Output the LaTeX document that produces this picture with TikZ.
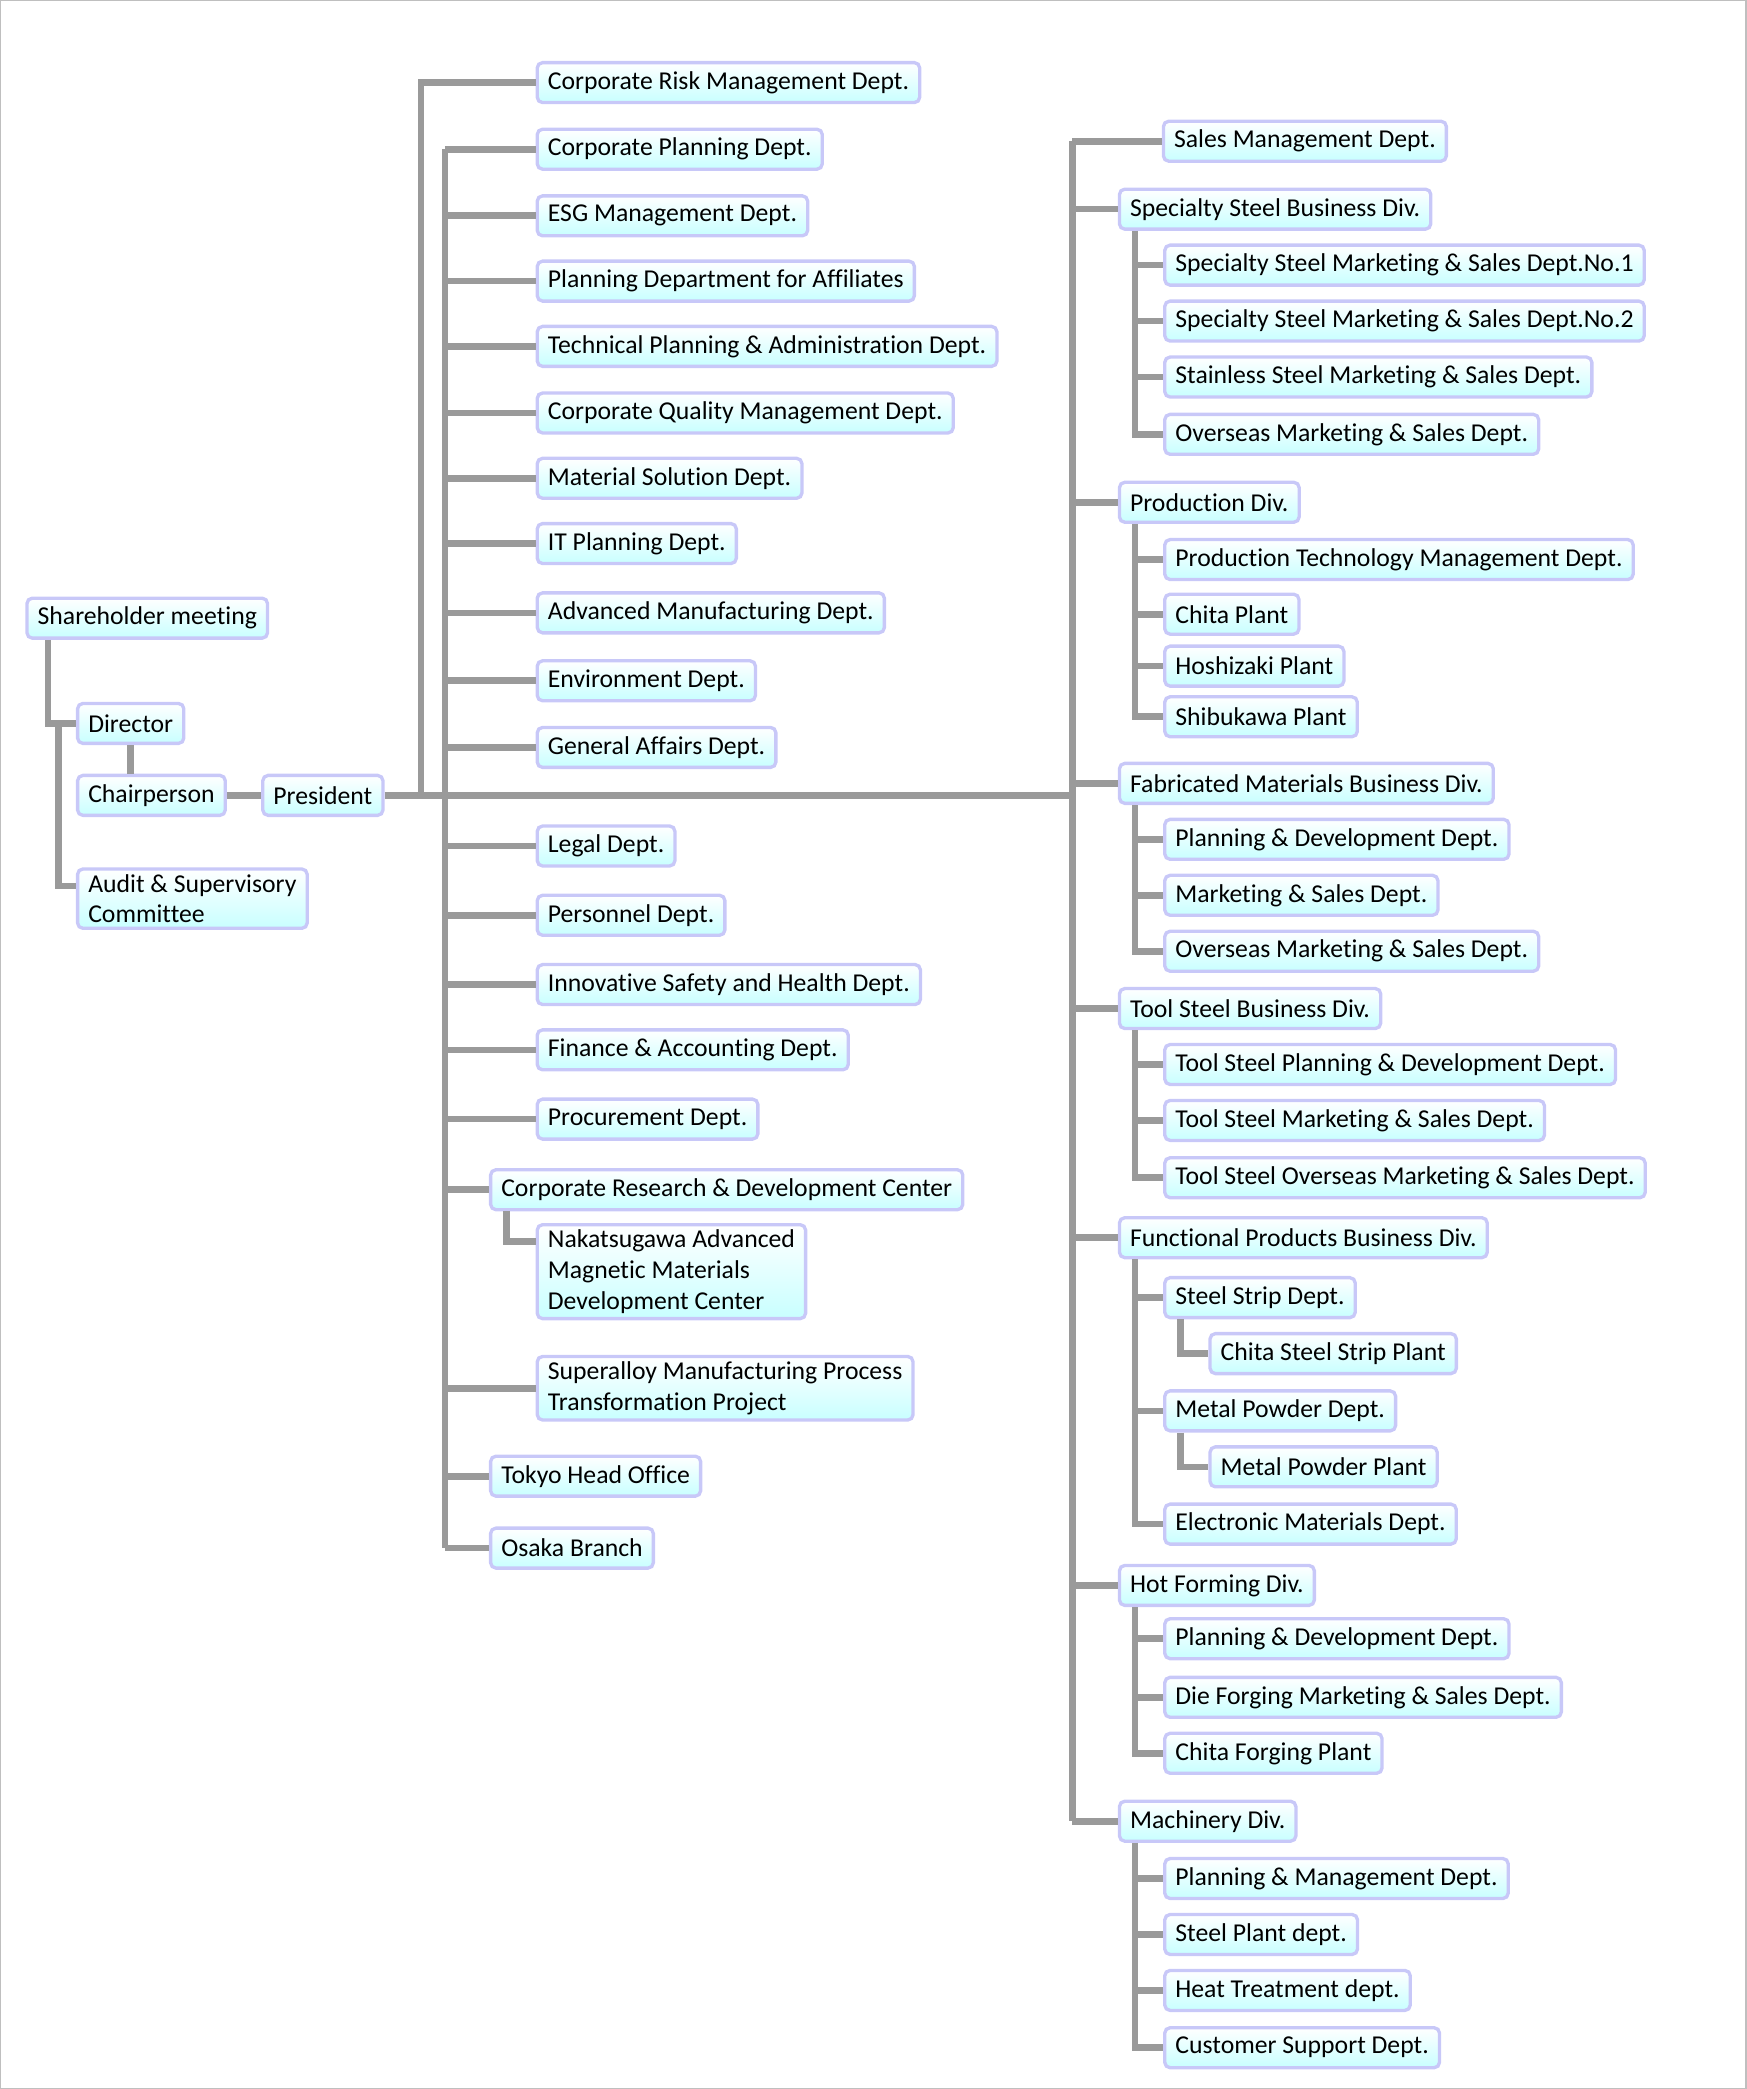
\documentclass[tikz,border=0pt]{standalone}
\usepackage{fontspec}
\setmainfont{Carlito}[Ligatures=NoCommon]
\definecolor{linkgray}{HTML}{9A9A9A}
\definecolor{boxline}{HTML}{C8C8F8}
\definecolor{boxfill}{HTML}{C8FFFF}
\tikzset{
  unit/.style = { draw=boxline, line width=2.5pt, rounded corners=4pt,
                  top color=white, bottom color=boxfill,
                  inner xsep=8pt, inner ysep=4pt, minimum height=30pt,
                  font=\fontsize{19.3}{23}\selectfont, align=left, anchor=west },
  link/.style = { draw=linkgray, line width=5pt },
}
\begin{document}
\begin{tikzpicture}[x=1pt, y=-1pt]
	  \useasboundingbox (0,0) rectangle (1311,1568);
	  \draw [ gray!50, line width=1pt ] (0.5,0.5) rectangle (1310.5,1567.5);

	  % trunks
	  \coordinate (riskT) at (316,598);
	  \coordinate (leftT) at (334,598);
	  \coordinate (rightT) at (805,598);
	  \coordinate (auditT) at (44,543);

	  % top management
	  \node [unit] (share) at (19,464) {Shareholder meeting};
	  \node [unit] (dir) at (57,543) {Director};
	  \node [unit] (chair) at (57,597) {Chairperson};
	  \node [unit] (pres) at (196,597) {President};
	  \node [unit, anchor=north west] (audit) at (57,651) {Audit \& Supervisory\\Committee};

	  % corporate departments
	  \node [unit] (risk) at (402,62) {Corporate Risk Management Dept.};
	  \node [unit] (cpd) at (402,112) {Corporate Planning Dept.};
	  \node [unit] (esg) at (402,162) {ESG Management Dept.};
	  \node [unit] (affil) at (402,211) {Planning Department for Affiliates};
	  \node [unit] (tech) at (402,260) {Technical Planning \& Administration Dept.};
	  \node [unit] (qual) at (402,310) {Corporate Quality Management Dept.};
	  \node [unit] (matsol) at (402,359) {Material Solution Dept.};
	  \node [unit] (itp) at (402,408) {IT Planning Dept.};
	  \node [unit] (advm) at (402,460) {Advanced Manufacturing Dept.};
	  \node [unit] (env) at (402,511) {Environment Dept.};
	  \node [unit] (gen) at (402,561) {General Affairs Dept.};
	  \node [unit] (legal) at (402,635) {Legal Dept.};
	  \node [unit] (pers) at (402,687) {Personnel Dept.};
	  \node [unit] (safety) at (402,739) {Innovative Safety and Health Dept.};
	  \node [unit] (fin) at (402,788) {Finance \& Accounting Dept.};
	  \node [unit] (proc) at (402,840) {Procurement Dept.};
	  \node [unit] (crd) at (367,893) {Corporate Research \& Development Center};
	  \node [unit, anchor=north west] (naka) at (402,918) {Nakatsugawa Advanced\\Magnetic Materials\\Development Center};
	  \node [unit] (superal) at (402,1042) {Superalloy Manufacturing Process\\Transformation Project};
	  \node [unit] (tokyo) at (367,1108) {Tokyo Head Office};
	  \node [unit] (osaka) at (367,1162) {Osaka Branch};

	  % business divisions
	  \node [unit] (sales) at (872,106) {Sales Management Dept.};
	  \node [unit] (ssd) at (839,157) {Specialty Steel Business Div.};
	  \node [unit] (ss1) at (873,199) {Specialty Steel Marketing \& Sales Dept.No.1};
	  \node [unit] (ss2) at (873,241) {Specialty Steel Marketing \& Sales Dept.No.2};
	  \node [unit] (ss3) at (873,283) {Stainless Steel Marketing \& Sales Dept.};
	  \node [unit] (ss4) at (873,326) {Overseas Marketing \& Sales Dept.};
	  \node [unit] (prd) at (839,377) {Production Div.};
	  \node [unit] (pr1) at (873,420) {Production Technology Management Dept.};
	  \node [unit] (pr2) at (873,461) {Chita Plant};
	  \node [unit] (pr3) at (873,500) {Hoshizaki Plant};
	  \node [unit] (pr4) at (873,538) {Shibukawa Plant};
	  \node [unit] (fmd) at (839,588) {Fabricated Materials Business Div.};
	  \node [unit] (fm1) at (873,630) {Planning \& Development Dept.};
	  \node [unit] (fm2) at (873,672) {Marketing \& Sales Dept.};
	  \node [unit] (fm3) at (873,714) {Overseas Marketing \& Sales Dept.};
	  \node [unit] (tsd) at (839,757) {Tool Steel Business Div.};
	  \node [unit] (ts1) at (873,799) {Tool Steel Planning \& Development Dept.};
	  \node [unit] (ts2) at (873,841) {Tool Steel Marketing \& Sales Dept.};
	  \node [unit] (ts3) at (873,884) {Tool Steel Overseas Marketing \& Sales Dept.};
	  \node [unit] (fpd) at (839,929) {Functional Products Business Div.};
	  \node [unit] (fp1) at (873,974) {Steel Strip Dept.};
	  \node [unit] (fp1a) at (907,1016) {Chita Steel Strip Plant};
	  \node [unit] (fp2) at (873,1059) {Metal Powder Dept.};
	  \node [unit] (fp2a) at (907,1101) {Metal Powder Plant};
	  \node [unit] (fp3) at (873,1144) {Electronic Materials Dept.};
	  \node [unit] (hfd) at (839,1190) {Hot Forming Div.};
	  \node [unit] (hf1) at (873,1230) {Planning \& Development Dept.};
	  \node [unit] (hf2) at (873,1274) {Die Forging Marketing \& Sales Dept.};
	  \node [unit] (hf3) at (873,1316) {Chita Forging Plant};
	  \node [unit] (mcd) at (839,1367) {Machinery Div.};
	  \node [unit] (mc1) at (873,1410) {Planning \& Management Dept.};
	  \node [unit] (mc2) at (873,1452) {Steel Plant dept.};
	  \node [unit] (mc3) at (873,1494) {Heat Treatment dept.};
	  \node [unit] (mc4) at (873,1537) {Customer Support Dept.};

	  % top management links
	  \draw [link] ([xshift=17pt]share.south west) |- (dir.west);
	  \draw [link] (auditT) |- ([yshift=-14pt]audit.north west);
	  \draw [link] (dir.south) -- (dir.south |- chair.north);
	  \draw [link] (chair.east) -- (pres.west);
	  \draw [link] (pres.east) -- (pres.east -| rightT);
	  \draw [link] (pres.east -| riskT) |- (risk.west);

	  % corporate links
	  \draw [link] (cpd.west -| leftT) -- (osaka.west -| leftT);
	  \draw [link] (cpd.west -| leftT) -- (cpd.west);
	  \draw [link] (esg.west -| leftT) -- (esg.west);
	  \draw [link] (affil.west -| leftT) -- (affil.west);
	  \draw [link] (tech.west -| leftT) -- (tech.west);
	  \draw [link] (qual.west -| leftT) -- (qual.west);
	  \draw [link] (matsol.west -| leftT) -- (matsol.west);
	  \draw [link] (itp.west -| leftT) -- (itp.west);
	  \draw [link] (advm.west -| leftT) -- (advm.west);
	  \draw [link] (env.west -| leftT) -- (env.west);
	  \draw [link] (gen.west -| leftT) -- (gen.west);
	  \draw [link] (legal.west -| leftT) -- (legal.west);
	  \draw [link] (pers.west -| leftT) -- (pers.west);
	  \draw [link] (safety.west -| leftT) -- (safety.west);
	  \draw [link] (fin.west -| leftT) -- (fin.west);
	  \draw [link] (proc.west -| leftT) -- (proc.west);
	  \draw [link] (crd.west -| leftT) -- (crd.west);
	  \draw [link] ([xshift=13pt]crd.south west) |- ([yshift=-14pt]naka.north west);
	  \draw [link] (superal.west -| leftT) -- (superal.west);
	  \draw [link] (tokyo.west -| leftT) -- (tokyo.west);
	  \draw [link] (osaka.west -| leftT) -- (osaka.west);

	  % division links
	  \draw [link] (sales.west -| rightT) -- (mcd.west -| rightT);
	  \draw [link] (sales.west -| rightT) -- (sales.west);
	  \draw [link] (ssd.west -| rightT) -- (ssd.west);
	  \draw [link] (prd.west -| rightT) -- (prd.west);
	  \draw [link] (fmd.west -| rightT) -- (fmd.west);
	  \draw [link] (tsd.west -| rightT) -- (tsd.west);
	  \draw [link] (fpd.west -| rightT) -- (fpd.west);
	  \draw [link] (hfd.west -| rightT) -- (hfd.west);
	  \draw [link] (mcd.west -| rightT) -- (mcd.west);

	  \draw [link] ([xshift=13pt]ssd.south west) |- (ss4.west);
	  \draw [link] ([xshift=13pt]ssd.south west |- ss1.west) -- (ss1.west);
	  \draw [link] ([xshift=13pt]ssd.south west |- ss2.west) -- (ss2.west);
	  \draw [link] ([xshift=13pt]ssd.south west |- ss3.west) -- (ss3.west);

	  \draw [link] ([xshift=13pt]prd.south west) |- (pr4.west);
	  \draw [link] ([xshift=13pt]prd.south west |- pr1.west) -- (pr1.west);
	  \draw [link] ([xshift=13pt]prd.south west |- pr2.west) -- (pr2.west);
	  \draw [link] ([xshift=13pt]prd.south west |- pr3.west) -- (pr3.west);

	  \draw [link] ([xshift=13pt]fmd.south west) |- (fm3.west);
	  \draw [link] ([xshift=13pt]fmd.south west |- fm1.west) -- (fm1.west);
	  \draw [link] ([xshift=13pt]fmd.south west |- fm2.west) -- (fm2.west);

	  \draw [link] ([xshift=13pt]tsd.south west) |- (ts3.west);
	  \draw [link] ([xshift=13pt]tsd.south west |- ts1.west) -- (ts1.west);
	  \draw [link] ([xshift=13pt]tsd.south west |- ts2.west) -- (ts2.west);

	  \draw [link] ([xshift=13pt]fpd.south west) |- (fp3.west);
	  \draw [link] ([xshift=13pt]fpd.south west |- fp1.west) -- (fp1.west);
	  \draw [link] ([xshift=13pt]fpd.south west |- fp2.west) -- (fp2.west);
	  \draw [link] ([xshift=13pt]fp1.south west) |- (fp1a.west);
	  \draw [link] ([xshift=13pt]fp2.south west) |- (fp2a.west);

	  \draw [link] ([xshift=13pt]hfd.south west) |- (hf3.west);
	  \draw [link] ([xshift=13pt]hfd.south west |- hf1.west) -- (hf1.west);
	  \draw [link] ([xshift=13pt]hfd.south west |- hf2.west) -- (hf2.west);

	  \draw [link] ([xshift=13pt]mcd.south west) |- (mc4.west);
	  \draw [link] ([xshift=13pt]mcd.south west |- mc1.west) -- (mc1.west);
	  \draw [link] ([xshift=13pt]mcd.south west |- mc2.west) -- (mc2.west);
	  \draw [link] ([xshift=13pt]mcd.south west |- mc3.west) -- (mc3.west);

	\end{tikzpicture}
\end{document}
